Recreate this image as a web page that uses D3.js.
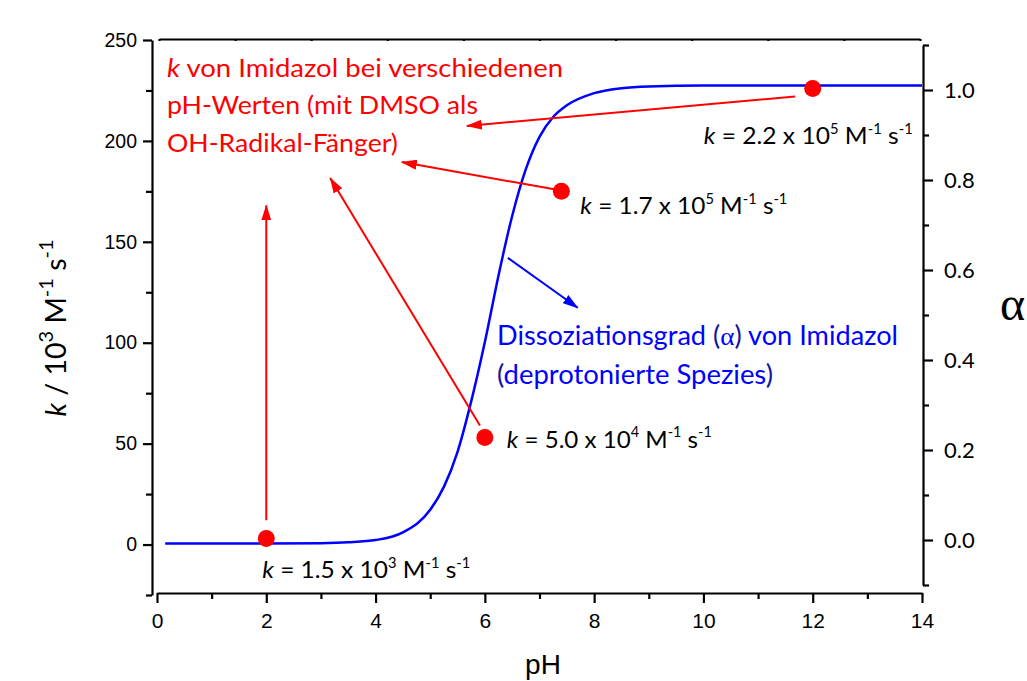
<!DOCTYPE html>
<html>
<head>
<meta charset="utf-8">
<script src="https://cdn.jsdelivr.net/npm/d3@7"></script>
<style>
  body { margin: 0; background: #fff; }
  svg { display: block; }
</style>
</head>
<body>
<svg id="chart" width="1027" height="681"></svg>
<script>
// k von Imidazol (in 10^3 M^-1 s^-1) bei verschiedenen pH-Werten
const kPH = [2, 6, 7.4, 12];
const kValues = [3, 53, 175, 226];
const kMantissa = ['1.5', '5.0', '1.7', '2.2'];
const kExponent = ['3', '4', '5', '5'];

// Dissoziationsgrad alpha
const alphaPH = [0.15, 1, 2, 3, 3.5, 4, 4.5, 5, 5.25, 5.5, 5.75, 6, 6.25, 6.5, 6.75, 7, 7.25, 7.5, 8, 8.5, 9, 10, 12, 14];
const alphaValues = [-0.008, -0.008, -0.008, -0.007, -0.005, 0.0, 0.017, 0.067, 0.118, 0.196, 0.308, 0.44, 0.588, 0.72, 0.824, 0.896, 0.94, 0.966, 0.993, 1.004, 1.008, 1.01, 1.01, 1.01];

// tick labels
const xTicks = [0, 2, 4, 6, 8, 10, 12, 14];
const xMinor = [1, 3, 5, 7, 9, 11, 13];
const kTicks = [0, 50, 100, 150, 200, 250];
const kMinor = [-25, 25, 75, 125, 175, 225];
const aTicks = [0, 0.2, 0.4, 0.6, 0.8, 1.0];
const aMinor = [-0.1, 0.1, 0.3, 0.5, 0.7, 0.9, 1.1];

// arrows in data space: [pH, k] pairs (red), [pH, alpha] (blue)
const redArrows = [
  [[2, 12], [2, 168]],
  [[5.91, 59], [3.17, 181.6]],
  [[7.27, 176], [4.48, 189.5]],
  [[11.68, 222], [5.67, 207.4]]
];
const blueArrow = [[6.42, 0.627], [7.70, 0.516]];

const svg = d3.select('#chart');

const x = d3.scaleLinear().domain([0, 14]).range([157, 922]);
const yK = d3.scaleLinear().domain([-25, 250]).range([595, 40]);
const yA = d3.scaleLinear().domain([-0.1, 1.1]).range([585, 45]);

const AX = 2.2;
function styleAxis(g, font, size) {
  g.attr('font-family', font).attr('font-size', size);
  g.selectAll('path, line').attr('stroke', '#000').attr('stroke-width', AX);
  g.selectAll('text').attr('fill', '#000');
}

// left axis
svg.append('g').attr('transform', 'translate(152,0)')
  .call(d3.axisLeft(yK).tickValues(kTicks).tickSize(9).tickPadding(6).tickSizeOuter(0))
  .call(g => styleAxis(g, '"Liberation Sans", Arial, sans-serif', 19.5));
svg.append('g').attr('transform', 'translate(152,0)')
  .call(d3.axisLeft(yK).tickValues(kMinor).tickSize(6).tickFormat(''))
  .call(g => { g.select('.domain').remove(); styleAxis(g, 'sans-serif', 10); });

// bottom axis
svg.append('g').attr('transform', 'translate(0,593)')
  .call(d3.axisBottom(x).tickValues(xTicks).tickSize(10).tickPadding(10).tickSizeOuter(0))
  .call(g => styleAxis(g, '"Liberation Sans", Arial, sans-serif', 21));
svg.append('g').attr('transform', 'translate(0,593)')
  .call(d3.axisBottom(x).tickValues(xMinor).tickSize(6).tickFormat(''))
  .call(g => { g.select('.domain').remove(); styleAxis(g, 'sans-serif', 10); });

// right axis
svg.append('g').attr('transform', 'translate(923,0)')
  .call(d3.axisRight(yA).tickValues(aTicks).tickSize(10).tickPadding(11).tickSizeOuter(0).tickFormat(d3.format('.1f')))
  .call(g => styleAxis(g, 'Lato, sans-serif', 22));
svg.append('g').attr('transform', 'translate(923,0)')
  .call(d3.axisRight(yA).tickValues(aMinor).tickSize(6).tickFormat(''))
  .call(g => { g.select('.domain').remove(); styleAxis(g, 'sans-serif', 10); });

// top frame line with tiny ticks
const topScale = d3.scaleLinear().domain([0, 10]).range([159, 920]);
svg.append('g').attr('transform', 'translate(0,39)')
  .call(d3.axisBottom(topScale).ticks(10).tickSize(2).tickSizeOuter(0).tickFormat(''))
  .call(g => styleAxis(g, 'sans-serif', 10));

// markers
const defs = svg.append('defs');
[['arrRed', '#ff0000'], ['arrBlue', '#0000ff']].forEach(([id, c]) => {
  defs.append('marker').attr('id', id)
    .attr('markerUnits', 'userSpaceOnUse')
    .attr('viewBox', '0 0 16 10')
    .attr('markerWidth', 16).attr('markerHeight', 10)
    .attr('refX', 15).attr('refY', 5).attr('orient', 'auto')
    .append('path').attr('d', 'M0,0 L16,5 L0,10 Z').attr('fill', c);
});

// blue curve
const curve = d3.line()
  .x((d, i) => x(alphaPH[i]))
  .y(d => yA(d))
  .curve(d3.curveMonotoneX);
svg.append('path').datum(alphaValues)
  .attr('d', curve)
  .attr('fill', 'none').attr('stroke', '#0000ff').attr('stroke-width', 2.5);

// red arrows
svg.append('g').selectAll('line').data(redArrows).join('line')
  .attr('x1', d => x(d[0][0])).attr('y1', d => yK(d[0][1]))
  .attr('x2', d => x(d[1][0])).attr('y2', d => yK(d[1][1]))
  .attr('stroke', '#ff0000').attr('stroke-width', 2)
  .attr('marker-end', 'url(#arrRed)');

// blue arrow
svg.append('line')
  .attr('x1', x(blueArrow[0][0])).attr('y1', yA(blueArrow[0][1]))
  .attr('x2', x(blueArrow[1][0])).attr('y2', yA(blueArrow[1][1]))
  .attr('stroke', '#0000ff').attr('stroke-width', 2)
  .attr('marker-end', 'url(#arrBlue)');

// red points
svg.append('g').selectAll('circle').data(kValues).join('circle')
  .attr('cx', (d, i) => x(kPH[i])).attr('cy', d => yK(d))
  .attr('r', 8.5).attr('fill', '#ff0000');

// rich text helper (italic k, superscripts)
function richText(g, px, py, parts, o) {
  const t = g.append('text').attr('x', px).attr('y', py)
    .attr('font-family', o.font || 'Lato, sans-serif')
    .attr('font-size', o.size).attr('fill', o.color || '#000');
  if (o.anchor) t.attr('text-anchor', o.anchor);
  if (o.transform) t.attr('transform', o.transform);
  const shift = o.size * 0.45;
  let up = false;
  parts.forEach(p => {
    const s = t.append('tspan').text(p.t);
    if (p.italic) s.attr('font-style', 'italic');
    if (p.fill) s.attr('fill', p.fill);
    if (p.font) s.attr('font-family', p.font);
    if (p.sup) {
      s.attr('font-size', o.size * (o.supScale || 0.6));
      if (!up) { s.attr('dy', -shift); up = true; }
    } else if (up) {
      s.attr('dy', shift); up = false;
    }
  });
  if (o.width) t.attr('textLength', o.width).attr('lengthAdjust', 'spacingAndGlyphs');
  return t;
}

// k labels near points
const labelDx = [-4, 22, 19, -109];
const labelDy = [40, 10, 23, 56];
const labelW = [208, 205, 207, 209];
const labels = svg.append('g');
kValues.forEach((v, i) => {
  richText(labels, x(kPH[i]) + labelDx[i], yK(v) + labelDy[i], [
    { t: 'k', italic: true },
    { t: ' = ' + kMantissa[i] + ' x 10' },
    { t: kExponent[i], sup: true },
    { t: ' M' },
    { t: '-1', sup: true },
    { t: ' s' },
    { t: '-1', sup: true }
  ], { size: 24, width: labelW[i] });
});

// red description
const redLines = [
  [{ t: 'k', italic: true }, { t: ' von Imidazol bei verschiedenen' }],
  [{ t: 'pH-Werten (mit DMSO als' }],
  [{ t: 'OH-Radikal-Fänger)' }]
];
const redBase = [77, 114, 152];
const redW = [396, 311, 231];
redLines.forEach((parts, i) => {
  richText(svg, 167, redBase[i], parts, { size: 25, color: '#ff0000', width: redW[i] });
});

// blue description
const navy = '#14149a';
richText(svg, 497, 345, [
  { t: 'Dissoziationsgrad ' },
  { t: '(', fill: navy },
  { t: 'α', font: '"Liberation Serif", serif' },
  { t: ')', fill: navy },
  { t: ' von Imidazol' }
], { size: 26, color: '#0000ff', width: 401 });
richText(svg, 497, 384, [
  { t: '(', fill: navy },
  { t: 'deprotonierte Spezies' },
  { t: ')', fill: navy }
], { size: 26, color: '#0000ff', width: 276 });

// axis titles
richText(svg, 0, 0, [
  { t: 'k', italic: true },
  { t: ' / 10' },
  { t: '3', sup: true },
  { t: ' M' },
  { t: '-1', sup: true },
  { t: ' s' },
  { t: '-1', sup: true }
], { size: 28, anchor: 'middle', transform: 'translate(66,328) rotate(-90)', width: 177, supScale: 0.7 });

svg.append('text').attr('x', 543).attr('y', 674)
  .attr('text-anchor', 'middle')
  .attr('font-family', '"Liberation Sans", Arial, sans-serif')
  .attr('font-size', 28).text('pH');

svg.append('text').attr('x', 1000).attr('y', 320)
  .attr('font-family', '"Liberation Serif", serif')
  .attr('font-size', 48).text('α');
</script>
</body>
</html>
